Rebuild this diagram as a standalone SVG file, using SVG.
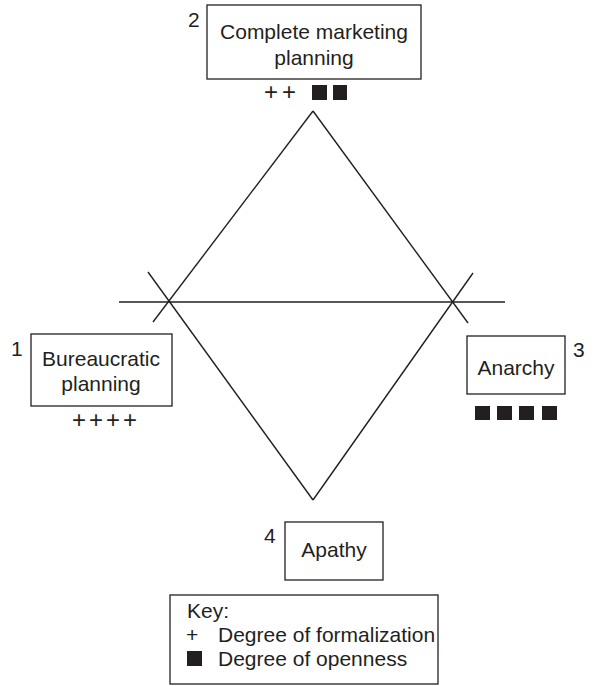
<svg xmlns="http://www.w3.org/2000/svg" width="594" height="686" viewBox="0 0 594 686">
<style>
  .box { fill: #fff; stroke: #231f20; stroke-width: 1.3; }
  .ln { stroke: #231f20; stroke-width: 1.4; fill: none; stroke-linecap: butt; }
  .t { font-family: "Liberation Sans", Arial, sans-serif; font-size: 21px; fill: #231f20; }
  .c { text-anchor: middle; }
  .plus { font-family: "Liberation Sans", Arial, sans-serif; font-size: 24px; fill: #231f20; }
  .sq { fill: #231f20; }
</style>
<rect width="594" height="686" fill="#fff"/>
<g id="connectors">
  <line class="ln" x1="119" y1="302" x2="505" y2="302"/>
  <line class="ln" x1="313" y1="111" x2="153" y2="322"/>
  <line class="ln" x1="148" y1="272" x2="313" y2="500"/>
  <line class="ln" x1="313" y1="111" x2="468" y2="323"/>
  <line class="ln" x1="473" y1="273" x2="313" y2="500"/>
</g>
<g id="node2">
  <rect class="box" x="207" y="5" width="214" height="74"/>
  <text class="t c" x="314" y="39">Complete marketing</text>
  <text class="t c" x="314" y="65">planning</text>
  <text class="t" x="188" y="27">2</text>
  <text class="plus" x="264" y="100">+</text>
  <text class="plus" x="282" y="100">+</text>
  <rect class="sq" x="312" y="85" width="15" height="15"/>
  <rect class="sq" x="333" y="85" width="14" height="15"/>
</g>
<g id="node1">
  <rect class="box" x="31" y="334" width="141" height="72"/>
  <text class="t c" x="101" y="366">Bureaucratic</text>
  <text class="t c" x="101" y="391">planning</text>
  <text class="t" x="11" y="356">1</text>
  <text class="plus" x="72" y="428">+</text>
  <text class="plus" x="89" y="428">+</text>
  <text class="plus" x="106" y="428">+</text>
  <text class="plus" x="123" y="428">+</text>
</g>
<g id="node3">
  <rect class="box" x="467" y="336" width="98" height="58"/>
  <text class="t c" x="516" y="375">Anarchy</text>
  <text class="t" x="573" y="357">3</text>
  <rect class="sq" x="475" y="406" width="15" height="14"/>
  <rect class="sq" x="497" y="406" width="15" height="14"/>
  <rect class="sq" x="519" y="406" width="15" height="14"/>
  <rect class="sq" x="542" y="406" width="15" height="14"/>
</g>
<g id="node4">
  <rect class="box" x="285" y="522" width="98" height="58"/>
  <text class="t c" x="334" y="557">Apathy</text>
  <text class="t" x="264" y="543">4</text>
</g>
<g id="key">
  <rect class="box" x="170" y="595" width="268" height="89"/>
  <text class="t" x="187" y="618">Key:</text>
  <text class="t" x="186" y="642">+</text>
  <text class="t" x="218" y="642">Degree of formalization</text>
  <rect class="sq" x="187" y="651" width="15" height="15"/>
  <text class="t" x="218" y="666">Degree of openness</text>
</g>
</svg>
